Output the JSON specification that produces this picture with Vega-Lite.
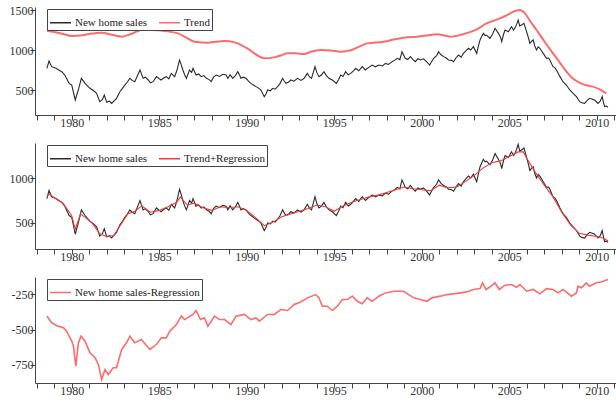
{
  "$schema": "https://vega.github.io/schema/vega-lite/v6.json",
  "background": "white",
  "padding": {"left": 9, "top": 4, "right": 0, "bottom": 0},
  "config": {
    "view": {"stroke": null},
    "font": "Liberation Serif",
    "axis": {
      "grid": false,
      "domain": true,
      "domainColor": "#444444",
      "domainWidth": 1,
      "ticks": true,
      "tickColor": "#444444",
      "tickWidth": 1,
      "tickSize": 5,
      "labelFont": "Liberation Serif",
      "labelFontSize": 12,
      "labelColor": "#333333"
    },
    "legend": {
      "orient": "none",
      "legendX": 12,
      "legendY": 2,
      "direction": "horizontal",
      "labelFont": "Liberation Serif",
      "labelFontSize": 11,
      "labelColor": "#222222",
      "symbolType": "stroke",
      "symbolSize": 440,
      "symbolStrokeWidth": 1.5,
      "strokeColor": "#444444",
      "fillColor": "white",
      "padding": 2,
      "columnPadding": 8,
      "labelOffset": 3
    }
  },
  "datasets": {
    "sales": [
      {"year": 1978.58, "value": 771}, {"year": 1978.7, "value": 862}, {"year": 1978.85, "value": 792},
      {"year": 1979.1, "value": 771}, {"year": 1979.3, "value": 745}, {"year": 1979.43, "value": 729},
      {"year": 1979.6, "value": 687}, {"year": 1979.85, "value": 583}, {"year": 1980.0, "value": 562},
      {"year": 1980.2, "value": 375}, {"year": 1980.4, "value": 521}, {"year": 1980.55, "value": 646},
      {"year": 1980.76, "value": 583}, {"year": 1981.04, "value": 521}, {"year": 1981.25, "value": 490},
      {"year": 1981.42, "value": 458}, {"year": 1981.6, "value": 354}, {"year": 1981.75, "value": 380},
      {"year": 1981.86, "value": 437}, {"year": 1982.0, "value": 346}, {"year": 1982.15, "value": 360},
      {"year": 1982.28, "value": 333}, {"year": 1982.45, "value": 370}, {"year": 1982.56, "value": 396},
      {"year": 1982.75, "value": 479}, {"year": 1982.9, "value": 520}, {"year": 1983.03, "value": 562},
      {"year": 1983.18, "value": 600}, {"year": 1983.32, "value": 646}, {"year": 1983.45, "value": 620},
      {"year": 1983.6, "value": 604}, {"year": 1983.9, "value": 750}, {"year": 1984.08, "value": 646},
      {"year": 1984.2, "value": 660}, {"year": 1984.37, "value": 625}, {"year": 1984.5, "value": 590},
      {"year": 1984.65, "value": 604}, {"year": 1984.84, "value": 667}, {"year": 1985.0, "value": 640},
      {"year": 1985.1, "value": 625}, {"year": 1985.25, "value": 650}, {"year": 1985.4, "value": 667},
      {"year": 1985.55, "value": 640}, {"year": 1985.69, "value": 708}, {"year": 1985.88, "value": 667},
      {"year": 1986.0, "value": 740}, {"year": 1986.16, "value": 875}, {"year": 1986.25, "value": 820},
      {"year": 1986.35, "value": 750}, {"year": 1986.45, "value": 690}, {"year": 1986.55, "value": 646},
      {"year": 1986.73, "value": 750}, {"year": 1986.85, "value": 720}, {"year": 1986.93, "value": 771},
      {"year": 1987.1, "value": 687}, {"year": 1987.25, "value": 700}, {"year": 1987.4, "value": 667},
      {"year": 1987.55, "value": 680}, {"year": 1987.7, "value": 646}, {"year": 1987.85, "value": 630},
      {"year": 1987.97, "value": 604}, {"year": 1988.1, "value": 660}, {"year": 1988.25, "value": 687},
      {"year": 1988.45, "value": 670}, {"year": 1988.63, "value": 696}, {"year": 1988.82, "value": 687},
      {"year": 1988.92, "value": 646}, {"year": 1989.05, "value": 690}, {"year": 1989.2, "value": 646},
      {"year": 1989.35, "value": 680}, {"year": 1989.49, "value": 729}, {"year": 1989.58, "value": 690},
      {"year": 1989.67, "value": 646}, {"year": 1989.8, "value": 660}, {"year": 1989.96, "value": 646},
      {"year": 1990.1, "value": 610}, {"year": 1990.24, "value": 583}, {"year": 1990.4, "value": 560},
      {"year": 1990.53, "value": 542}, {"year": 1990.7, "value": 520}, {"year": 1990.81, "value": 500},
      {"year": 1991.0, "value": 417}, {"year": 1991.1, "value": 450}, {"year": 1991.19, "value": 500},
      {"year": 1991.35, "value": 490}, {"year": 1991.48, "value": 521}, {"year": 1991.62, "value": 510},
      {"year": 1991.76, "value": 542}, {"year": 1991.9, "value": 580}, {"year": 1992.05, "value": 646},
      {"year": 1992.15, "value": 610}, {"year": 1992.24, "value": 583}, {"year": 1992.4, "value": 600},
      {"year": 1992.52, "value": 625}, {"year": 1992.7, "value": 610}, {"year": 1992.9, "value": 646},
      {"year": 1993.1, "value": 620}, {"year": 1993.28, "value": 646}, {"year": 1993.46, "value": 708},
      {"year": 1993.6, "value": 660}, {"year": 1993.7, "value": 646}, {"year": 1993.9, "value": 792},
      {"year": 1994.0, "value": 720}, {"year": 1994.13, "value": 667}, {"year": 1994.28, "value": 690},
      {"year": 1994.41, "value": 729}, {"year": 1994.55, "value": 680}, {"year": 1994.7, "value": 646},
      {"year": 1994.89, "value": 625}, {"year": 1995.12, "value": 583}, {"year": 1995.25, "value": 630},
      {"year": 1995.37, "value": 687}, {"year": 1995.5, "value": 670}, {"year": 1995.65, "value": 729},
      {"year": 1995.8, "value": 690}, {"year": 1995.94, "value": 708}, {"year": 1996.1, "value": 740},
      {"year": 1996.22, "value": 771}, {"year": 1996.4, "value": 740}, {"year": 1996.6, "value": 792},
      {"year": 1996.78, "value": 750}, {"year": 1996.95, "value": 780}, {"year": 1997.17, "value": 812},
      {"year": 1997.35, "value": 790}, {"year": 1997.55, "value": 812}, {"year": 1997.75, "value": 800},
      {"year": 1997.93, "value": 833}, {"year": 1998.1, "value": 820}, {"year": 1998.3, "value": 854},
      {"year": 1998.45, "value": 870}, {"year": 1998.6, "value": 896}, {"year": 1998.75, "value": 880},
      {"year": 1998.87, "value": 979}, {"year": 1999.06, "value": 896}, {"year": 1999.2, "value": 880},
      {"year": 1999.35, "value": 917}, {"year": 1999.5, "value": 880}, {"year": 1999.63, "value": 854},
      {"year": 1999.78, "value": 890}, {"year": 1999.92, "value": 875}, {"year": 2000.1, "value": 890},
      {"year": 2000.25, "value": 860}, {"year": 2000.45, "value": 812}, {"year": 2000.55, "value": 850},
      {"year": 2000.68, "value": 896}, {"year": 2000.85, "value": 930}, {"year": 2000.96, "value": 979},
      {"year": 2001.1, "value": 940}, {"year": 2001.25, "value": 917}, {"year": 2001.4, "value": 900},
      {"year": 2001.53, "value": 875}, {"year": 2001.7, "value": 870}, {"year": 2001.82, "value": 854},
      {"year": 2001.95, "value": 900}, {"year": 2002.1, "value": 937}, {"year": 2002.25, "value": 910},
      {"year": 2002.38, "value": 958}, {"year": 2002.52, "value": 990}, {"year": 2002.67, "value": 1021},
      {"year": 2002.8, "value": 1000}, {"year": 2002.95, "value": 1042}, {"year": 2003.14, "value": 958},
      {"year": 2003.25, "value": 1060}, {"year": 2003.33, "value": 1125}, {"year": 2003.52, "value": 1208},
      {"year": 2003.62, "value": 1180}, {"year": 2003.7, "value": 1187}, {"year": 2003.9, "value": 1146},
      {"year": 2004.05, "value": 1200}, {"year": 2004.19, "value": 1271}, {"year": 2004.38, "value": 1208},
      {"year": 2004.5, "value": 1160}, {"year": 2004.57, "value": 1104}, {"year": 2004.68, "value": 1200},
      {"year": 2004.76, "value": 1250}, {"year": 2004.95, "value": 1229}, {"year": 2005.13, "value": 1291},
      {"year": 2005.25, "value": 1250}, {"year": 2005.32, "value": 1271}, {"year": 2005.42, "value": 1320},
      {"year": 2005.51, "value": 1375}, {"year": 2005.6, "value": 1300}, {"year": 2005.7, "value": 1312},
      {"year": 2005.84, "value": 1333}, {"year": 2005.99, "value": 1229}, {"year": 2006.1, "value": 1150},
      {"year": 2006.18, "value": 1083}, {"year": 2006.28, "value": 1110}, {"year": 2006.37, "value": 1125},
      {"year": 2006.46, "value": 1050}, {"year": 2006.56, "value": 1000}, {"year": 2006.65, "value": 1040},
      {"year": 2006.75, "value": 1021}, {"year": 2006.94, "value": 958}, {"year": 2007.13, "value": 896},
      {"year": 2007.25, "value": 900}, {"year": 2007.32, "value": 875}, {"year": 2007.5, "value": 792},
      {"year": 2007.6, "value": 780}, {"year": 2007.7, "value": 750}, {"year": 2007.9, "value": 667},
      {"year": 2008.07, "value": 604}, {"year": 2008.26, "value": 562}, {"year": 2008.46, "value": 500},
      {"year": 2008.65, "value": 458}, {"year": 2008.84, "value": 417}, {"year": 2009.03, "value": 354},
      {"year": 2009.15, "value": 340}, {"year": 2009.31, "value": 333}, {"year": 2009.45, "value": 370},
      {"year": 2009.6, "value": 396}, {"year": 2009.75, "value": 385}, {"year": 2009.88, "value": 375},
      {"year": 2010.07, "value": 333}, {"year": 2010.2, "value": 360}, {"year": 2010.31, "value": 417},
      {"year": 2010.4, "value": 330}, {"year": 2010.45, "value": 292}, {"year": 2010.55, "value": 300},
      {"year": 2010.64, "value": 285}
    ],
    "trend": [
      {"year": 1978.58, "value": 1241}, {"year": 1979.0, "value": 1225}, {"year": 1979.5, "value": 1200},
      {"year": 1980.0, "value": 1175}, {"year": 1980.5, "value": 1180}, {"year": 1981.0, "value": 1200},
      {"year": 1981.7, "value": 1216}, {"year": 1982.3, "value": 1190}, {"year": 1982.85, "value": 1167},
      {"year": 1983.4, "value": 1200}, {"year": 1984.0, "value": 1250}, {"year": 1984.6, "value": 1250},
      {"year": 1985.3, "value": 1237}, {"year": 1986.07, "value": 1208}, {"year": 1986.5, "value": 1160},
      {"year": 1987.0, "value": 1104}, {"year": 1987.8, "value": 1092}, {"year": 1988.73, "value": 1112},
      {"year": 1989.3, "value": 1095}, {"year": 1989.68, "value": 1062}, {"year": 1990.1, "value": 1010},
      {"year": 1990.43, "value": 958}, {"year": 1991.0, "value": 896}, {"year": 1991.57, "value": 908},
      {"year": 1992.0, "value": 935}, {"year": 1992.33, "value": 958}, {"year": 1992.8, "value": 958},
      {"year": 1993.3, "value": 950}, {"year": 1993.66, "value": 979}, {"year": 1994.23, "value": 1000},
      {"year": 1994.8, "value": 995}, {"year": 1995.37, "value": 979}, {"year": 1995.94, "value": 996},
      {"year": 1996.4, "value": 1040}, {"year": 1996.88, "value": 1083}, {"year": 1997.83, "value": 1104},
      {"year": 1998.4, "value": 1130}, {"year": 1998.97, "value": 1154}, {"year": 1999.73, "value": 1167},
      {"year": 2000.3, "value": 1180}, {"year": 2000.87, "value": 1196}, {"year": 2001.3, "value": 1180},
      {"year": 2001.63, "value": 1167}, {"year": 2002.2, "value": 1187}, {"year": 2002.7, "value": 1220},
      {"year": 2003.15, "value": 1258}, {"year": 2003.71, "value": 1333}, {"year": 2004.1, "value": 1365},
      {"year": 2004.47, "value": 1396}, {"year": 2004.9, "value": 1440}, {"year": 2005.23, "value": 1479},
      {"year": 2005.61, "value": 1500}, {"year": 2005.9, "value": 1458}, {"year": 2006.2, "value": 1360},
      {"year": 2006.56, "value": 1250}, {"year": 2007.0, "value": 1110}, {"year": 2007.5, "value": 958},
      {"year": 2007.9, "value": 840}, {"year": 2008.27, "value": 729}, {"year": 2008.6, "value": 650},
      {"year": 2009.03, "value": 590}, {"year": 2009.4, "value": 560}, {"year": 2009.78, "value": 542},
      {"year": 2010.2, "value": 505}, {"year": 2010.54, "value": 458}
    ],
    "fitted": [
      {"year": 1978.58, "value": 800}, {"year": 1978.75, "value": 820}, {"year": 1979.0, "value": 780},
      {"year": 1979.5, "value": 720}, {"year": 1980.0, "value": 580}, {"year": 1980.2, "value": 430},
      {"year": 1980.5, "value": 600}, {"year": 1980.8, "value": 560}, {"year": 1981.2, "value": 490},
      {"year": 1981.6, "value": 380}, {"year": 1982.0, "value": 350}, {"year": 1982.4, "value": 360},
      {"year": 1982.8, "value": 480}, {"year": 1983.2, "value": 600}, {"year": 1983.6, "value": 630},
      {"year": 1984.0, "value": 690}, {"year": 1984.5, "value": 620}, {"year": 1985.0, "value": 640},
      {"year": 1985.5, "value": 680}, {"year": 1986.0, "value": 730}, {"year": 1986.2, "value": 790},
      {"year": 1986.6, "value": 700}, {"year": 1987.0, "value": 720}, {"year": 1987.5, "value": 670},
      {"year": 1988.0, "value": 640}, {"year": 1988.5, "value": 680}, {"year": 1989.0, "value": 670},
      {"year": 1989.5, "value": 680}, {"year": 1990.0, "value": 640}, {"year": 1990.5, "value": 560},
      {"year": 1991.0, "value": 470}, {"year": 1991.5, "value": 510}, {"year": 1992.0, "value": 570},
      {"year": 1992.5, "value": 600}, {"year": 1993.0, "value": 630}, {"year": 1993.5, "value": 660},
      {"year": 1994.0, "value": 700}, {"year": 1994.5, "value": 680}, {"year": 1995.0, "value": 630},
      {"year": 1995.5, "value": 690}, {"year": 1996.0, "value": 730}, {"year": 1996.5, "value": 760},
      {"year": 1997.0, "value": 790}, {"year": 1997.5, "value": 810}, {"year": 1998.0, "value": 840},
      {"year": 1998.5, "value": 870}, {"year": 1999.0, "value": 900}, {"year": 1999.5, "value": 880},
      {"year": 2000.0, "value": 870}, {"year": 2000.5, "value": 860}, {"year": 2001.0, "value": 920},
      {"year": 2001.5, "value": 890}, {"year": 2002.0, "value": 900}, {"year": 2002.5, "value": 960},
      {"year": 2003.0, "value": 1030}, {"year": 2003.5, "value": 1110}, {"year": 2004.0, "value": 1170},
      {"year": 2004.5, "value": 1190}, {"year": 2005.0, "value": 1240}, {"year": 2005.5, "value": 1290},
      {"year": 2005.8, "value": 1290}, {"year": 2006.0, "value": 1220}, {"year": 2006.5, "value": 1060},
      {"year": 2007.0, "value": 920}, {"year": 2007.5, "value": 790}, {"year": 2008.0, "value": 620},
      {"year": 2008.5, "value": 480}, {"year": 2009.0, "value": 385}, {"year": 2009.5, "value": 365},
      {"year": 2010.0, "value": 350}, {"year": 2010.4, "value": 330}, {"year": 2010.65, "value": 300}
    ],
    "resid": [
      {"year": 1978.58, "value": -406}, {"year": 1978.86, "value": -453}, {"year": 1979.15, "value": -474},
      {"year": 1979.53, "value": -488}, {"year": 1979.7, "value": -512}, {"year": 1980.0, "value": -582},
      {"year": 1980.1, "value": -617}, {"year": 1980.23, "value": -758}, {"year": 1980.38, "value": -594},
      {"year": 1980.53, "value": -547}, {"year": 1980.76, "value": -582}, {"year": 1981.04, "value": -664},
      {"year": 1981.33, "value": -699}, {"year": 1981.52, "value": -746}, {"year": 1981.71, "value": -852},
      {"year": 1981.9, "value": -782}, {"year": 1982.09, "value": -817}, {"year": 1982.37, "value": -770},
      {"year": 1982.56, "value": -770}, {"year": 1982.85, "value": -641}, {"year": 1983.13, "value": -594},
      {"year": 1983.32, "value": -547}, {"year": 1983.6, "value": -594}, {"year": 1983.98, "value": -570},
      {"year": 1984.46, "value": -641}, {"year": 1984.84, "value": -606}, {"year": 1985.12, "value": -559},
      {"year": 1985.4, "value": -559}, {"year": 1985.6, "value": -512}, {"year": 1985.98, "value": -465},
      {"year": 1986.26, "value": -406}, {"year": 1986.45, "value": -430}, {"year": 1986.93, "value": -394},
      {"year": 1987.1, "value": -366}, {"year": 1987.36, "value": -430}, {"year": 1987.58, "value": -418},
      {"year": 1987.78, "value": -477}, {"year": 1988.16, "value": -406}, {"year": 1988.44, "value": -430},
      {"year": 1988.73, "value": -430}, {"year": 1989.1, "value": -465}, {"year": 1989.39, "value": -406},
      {"year": 1989.86, "value": -394}, {"year": 1990.24, "value": -430}, {"year": 1990.53, "value": -418},
      {"year": 1990.72, "value": -441}, {"year": 1991.19, "value": -394}, {"year": 1991.57, "value": -394},
      {"year": 1991.95, "value": -359}, {"year": 1992.33, "value": -366}, {"year": 1992.71, "value": -324},
      {"year": 1993.09, "value": -306}, {"year": 1993.47, "value": -277}, {"year": 1993.94, "value": -254},
      {"year": 1994.13, "value": -277}, {"year": 1994.32, "value": -336}, {"year": 1994.6, "value": -336},
      {"year": 1994.89, "value": -366}, {"year": 1995.18, "value": -336}, {"year": 1995.46, "value": -289},
      {"year": 1995.75, "value": -289}, {"year": 1996.03, "value": -265}, {"year": 1996.32, "value": -301},
      {"year": 1996.6, "value": -319}, {"year": 1996.88, "value": -277}, {"year": 1997.17, "value": -301},
      {"year": 1997.55, "value": -265}, {"year": 1997.93, "value": -242}, {"year": 1998.4, "value": -230},
      {"year": 1998.97, "value": -230}, {"year": 1999.25, "value": -254}, {"year": 1999.54, "value": -277},
      {"year": 1999.92, "value": -289}, {"year": 2000.3, "value": -301}, {"year": 2000.58, "value": -277},
      {"year": 2001.06, "value": -265}, {"year": 2001.44, "value": -254}, {"year": 2001.82, "value": -249},
      {"year": 2002.2, "value": -242}, {"year": 2002.57, "value": -235}, {"year": 2002.95, "value": -218},
      {"year": 2003.33, "value": -212}, {"year": 2003.48, "value": -171}, {"year": 2003.67, "value": -218},
      {"year": 2003.9, "value": -200}, {"year": 2004.19, "value": -171}, {"year": 2004.43, "value": -218},
      {"year": 2004.76, "value": -188}, {"year": 2005.13, "value": -183}, {"year": 2005.42, "value": -202},
      {"year": 2005.61, "value": -183}, {"year": 2005.99, "value": -230}, {"year": 2006.37, "value": -218},
      {"year": 2006.75, "value": -249}, {"year": 2007.13, "value": -212}, {"year": 2007.5, "value": -218},
      {"year": 2007.79, "value": -242}, {"year": 2008.07, "value": -218}, {"year": 2008.55, "value": -265},
      {"year": 2008.84, "value": -242}, {"year": 2008.93, "value": -195}, {"year": 2009.12, "value": -206},
      {"year": 2009.4, "value": -171}, {"year": 2009.59, "value": -195}, {"year": 2009.97, "value": -171},
      {"year": 2010.26, "value": -165}, {"year": 2010.64, "value": -148}
    ]
  },
  "resolve": {"scale": {"color": "independent"}, "legend": {"color": "independent"}},
  "bounds": "flush",
  "spacing": 28,
  "vconcat": [
    {
      "width": 581,
      "height": 108,
      "encoding": {
        "x": {
          "field": "year", "type": "quantitative", "title": null,
          "scale": {"domain": [1977.9, 2011.1], "nice": false, "zero": false},
          "axis": {
            "values": [1978, 1979, 1980, 1981, 1982, 1983, 1984, 1985, 1986, 1987, 1988, 1989, 1990, 1991, 1992, 1993, 1994, 1995, 1996, 1997, 1998, 1999, 2000, 2001, 2002, 2003, 2004, 2005, 2006, 2007, 2008, 2009, 2010, 2011],
            "labelExpr": "datum.value % 5 === 0 ? '' + datum.value : ''",
            "labelPadding": -3,
            "labelFlush": false,
            "encode": {"ticks": {"update": {"y2": {"signal": "datum.value % 5 === 0 ? -6 : -3"}}}}
          }
        },
        "y": {
          "field": "value", "type": "quantitative", "title": null,
          "scale": {"domain": [187.5, 1537.5], "nice": false, "zero": false},
          "axis": {
            "values": [500, 1000, 1500],
            "labelExpr": "'' + datum.value",
            "labelPadding": -3,
            "encode": {"ticks": {"update": {"x2": {"value": 4}}}}
          }
        }
      },
      "layer": [
        {
          "data": {"values": [{}]},
          "mark": {"type": "rule", "color": "#444444", "strokeWidth": 1},
          "encoding": {"y": {"datum": 187.5}}
        },
        {
          "data": {"values": [{}]},
          "mark": {"type": "rule", "color": "#444444", "strokeWidth": 1},
          "encoding": {"x": {"datum": 1977.9}}
        },
        {
          "data": {"name": "trend"},
          "mark": {"type": "line", "strokeWidth": 2, "interpolate": "monotone"},
          "encoding": {
            "color": {"datum": "Trend", "title": null, "scale": {"domain": ["New home sales", "Trend"], "range": ["#2a2a2a", "#ff6b6b"]}}
          }
        },
        {
          "data": {"name": "sales"},
          "mark": {"type": "line", "strokeWidth": 1.1},
          "encoding": {
            "color": {"datum": "New home sales", "title": null}
          }
        }
      ]
    },
    {
      "width": 581,
      "height": 106,
      "encoding": {
        "x": {
          "field": "year", "type": "quantitative", "title": null,
          "scale": {"domain": [1977.9, 2011.1], "nice": false, "zero": false},
          "axis": {
            "values": [1978, 1979, 1980, 1981, 1982, 1983, 1984, 1985, 1986, 1987, 1988, 1989, 1990, 1991, 1992, 1993, 1994, 1995, 1996, 1997, 1998, 1999, 2000, 2001, 2002, 2003, 2004, 2005, 2006, 2007, 2008, 2009, 2010, 2011],
            "labelExpr": "datum.value % 5 === 0 ? '' + datum.value : ''",
            "labelPadding": -3,
            "labelFlush": false,
            "encode": {"ticks": {"update": {"y2": {"signal": "datum.value % 5 === 0 ? -6 : -3"}}}}
          }
        },
        "y": {
          "field": "value", "type": "quantitative", "title": null,
          "scale": {"domain": [211, 1389], "nice": false, "zero": false},
          "axis": {
            "values": [500, 1000],
            "labelExpr": "'' + datum.value",
            "labelPadding": -3,
            "encode": {"ticks": {"update": {"x2": {"value": 4}}}}
          }
        }
      },
      "layer": [
        {
          "data": {"values": [{}]},
          "mark": {"type": "rule", "color": "#444444", "strokeWidth": 1},
          "encoding": {"y": {"datum": 211}}
        },
        {
          "data": {"values": [{}]},
          "mark": {"type": "rule", "color": "#444444", "strokeWidth": 1},
          "encoding": {"x": {"datum": 1977.9}}
        },
        {
          "data": {"name": "sales"},
          "mark": {"type": "line", "strokeWidth": 1.1},
          "encoding": {
            "color": {"datum": "New home sales", "title": null, "scale": {"domain": ["New home sales", "Trend+Regression"], "range": ["#2a2a2a", "#f03c3c"]}}
          }
        },
        {
          "data": {"name": "fitted"},
          "mark": {"type": "line", "strokeWidth": 1.1},
          "encoding": {
            "color": {"datum": "Trend+Regression", "title": null}
          }
        }
      ]
    },
    {
      "width": 581,
      "height": 106,
      "encoding": {
        "x": {
          "field": "year", "type": "quantitative", "title": null,
          "scale": {"domain": [1977.9, 2011.1], "nice": false, "zero": false},
          "axis": {
            "values": [1978, 1979, 1980, 1981, 1982, 1983, 1984, 1985, 1986, 1987, 1988, 1989, 1990, 1991, 1992, 1993, 1994, 1995, 1996, 1997, 1998, 1999, 2000, 2001, 2002, 2003, 2004, 2005, 2006, 2007, 2008, 2009, 2010, 2011],
            "labelExpr": "datum.value % 5 === 0 ? '' + datum.value : ''",
            "labelPadding": -3,
            "labelFlush": false,
            "encode": {"ticks": {"update": {"y2": {"signal": "datum.value % 5 === 0 ? -6 : -3"}}}}
          }
        },
        "y": {
          "field": "value", "type": "quantitative", "title": null,
          "scale": {"domain": [-877, -130], "nice": false, "zero": false},
          "axis": {
            "values": [-750, -500, -250],
            "labelExpr": "'' + datum.value",
            "labelPadding": -3,
            "encode": {"ticks": {"update": {"x2": {"value": 4}}}}
          }
        }
      },
      "layer": [
        {
          "data": {"values": [{}]},
          "mark": {"type": "rule", "color": "#444444", "strokeWidth": 1},
          "encoding": {"y": {"datum": -877}}
        },
        {
          "data": {"values": [{}]},
          "mark": {"type": "rule", "color": "#444444", "strokeWidth": 1},
          "encoding": {"x": {"datum": 1977.9}}
        },
        {
          "data": {"name": "resid"},
          "mark": {"type": "line", "strokeWidth": 1.6},
          "encoding": {
            "color": {"datum": "New home sales-Regression", "title": null, "scale": {"domain": ["New home sales-Regression"], "range": ["#ff6b6b"]}}
          }
        }
      ]
    }
  ]
}
